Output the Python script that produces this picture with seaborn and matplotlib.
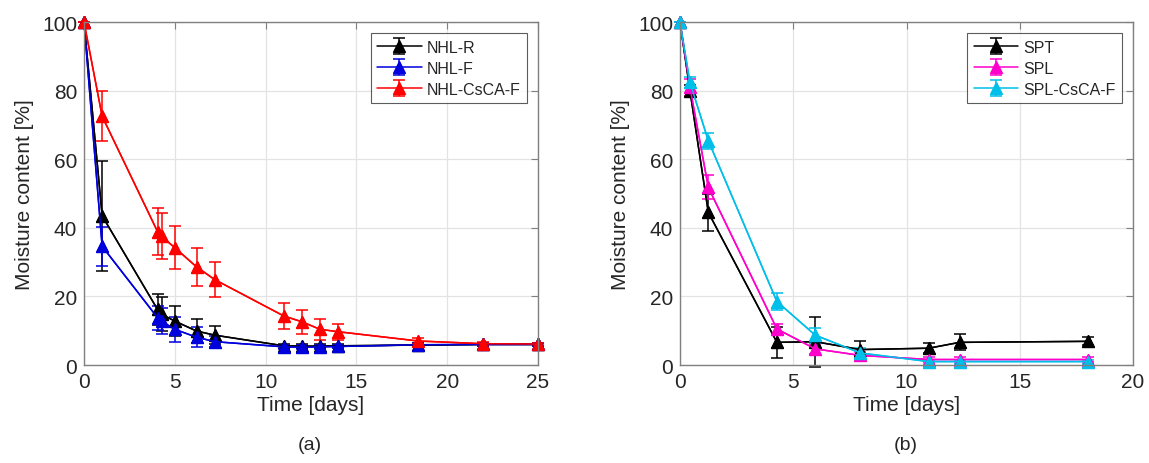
import matplotlib
matplotlib.use("Agg")
import matplotlib.pyplot as plt
import numpy as np
import pandas as pd
import seaborn as sns

# Panel (a) data
days_a = [0, 1, 4.05, 4.27, 5, 6.2, 7.2, 11, 12, 13, 14, 18.4, 22, 25]
nhl_r = [100, 43.5, 16.2, 14.8, 12.8, 9.9, 8.7, 5.6, 5.5, 5.5, 5.6, 5.8, 6.0, 6.0]
nhl_r_err = [0, 16, 4.4, 5, 4.4, 3.4, 2.7, 0.5, 0.5, 0.5, 0.5, 0.5, 0.5, 0.5]
nhl_f = [100, 34.6, 13.8, 12.8, 10.4, 8.1, 6.8, 5.3, 5.2, 5.3, 5.4, 5.9, 6.0, 6.0]
nhl_f_err = [0, 5.7, 3.5, 3.8, 3.7, 2.9, 1.6, 0.5, 0.5, 0.5, 0.5, 0.5, 0.5, 0.5]
nhl_cs = [100, 72.5, 38.9, 37.5, 34.2, 28.6, 24.9, 14.3, 12.6, 10.4, 9.7, 7.0, 6.2, 6.1]
nhl_cs_err = [0, 7.3, 6.8, 6.7, 6.2, 5.6, 5.2, 3.9, 3.5, 3.1, 2.3, 0.8, 0.5, 0.4]

# Panel (b) data
days_b = [0, 0.44, 1.25, 4.28, 5.97, 7.96, 10.99, 12.34, 18.02]
spt = [100, 80, 44.5, 6.6, 6.8, 4.5, 4.9, 6.6, 6.9]
spt_err = [0, 1.5, 5.5, 4.5, 7.3, 2.5, 1.5, 2.3, 1.2]
spl = [100, 81, 51.8, 10.5, 4.7, 2.8, 1.6, 1.6, 1.6]
spl_err = [0, 2.5, 3.5, 1.5, 1.5, 1.0, 0.8, 0.8, 0.8]
spl_cs = [100, 82.4, 65.4, 18.5, 8.7, 3.5, 1.0, 1.0, 1.0]
spl_cs_err = [0, 1.5, 2.3, 2.6, 2.2, 1.5, 0.6, 0.6, 0.6]

sns.set_style("whitegrid")
plt.rcParams['font.family'] = ['Liberation Sans', 'DejaVu Sans']

fig = plt.figure(figsize=(11.49, 4.64), dpi=100)
ax1 = fig.add_axes([0.0731, 0.2112, 0.3951, 0.7392])
ax2 = fig.add_axes([0.5918, 0.2112, 0.3943, 0.7392])


def draw(ax, x, series, xmax):
    for name, y, err, col in series:
        df = pd.DataFrame({"day": x, "val": y})
        sns.lineplot(data=df, x="day", y="val", ax=ax, color=col, lw=1.1,
                     marker="^", markersize=8, markeredgecolor=col, legend=False)
        ax.errorbar(x, y, yerr=err, fmt="-^", color=col, lw=1.1, ms=8,
                    elinewidth=1.1, capsize=4, capthick=1.1, label=name)
    ax.set_xlim(0, xmax)
    ax.set_ylim(0, 100)
    ax.set_xticks(np.arange(0, xmax + 1, 5))
    ax.set_yticks(np.arange(0, 101, 20))
    ax.grid(True, color="#e3e3e3", lw=0.9)
    for s in ax.spines.values():
        s.set_color("#808080")
        s.set_linewidth(1.0)
    ax.tick_params(direction="in", length=5, width=0.8, color="#808080",
                   top=True, right=True, labelsize=15, labelcolor="#262626", pad=5)
    ax.set_xlabel("Time [days]", fontsize=15, color="#262626", labelpad=3)
    ax.set_ylabel("Moisture content [%]", fontsize=15, color="#262626", labelpad=6)
    leg = ax.legend(loc="upper right", fontsize=11.5, frameon=True, fancybox=False,
                    handlelength=2.8, handletextpad=0.3, borderpad=0.4,
                    labelspacing=0.38, borderaxespad=0.7)
    leg.get_frame().set_edgecolor("#333333")
    leg.get_frame().set_linewidth(0.8)
    for line in ax.get_lines():
        line.set_clip_on(False)


draw(ax1, days_a, [("NHL-R", nhl_r, nhl_r_err, "black"),
                   ("NHL-F", nhl_f, nhl_f_err, "#0000dd"),
                   ("NHL-CsCA-F", nhl_cs, nhl_cs_err, "#ff0000")], 25)
draw(ax2, days_b, [("SPT", spt, spt_err, "black"),
                   ("SPL", spl, spl_err, "#ff00cc"),
                   ("SPL-CsCA-F", spl_cs, spl_cs_err, "#00bfe8")], 20)

fig.text(0.270, 0.03, "(a)", ha="center", fontsize=14, color="#262626")
fig.text(0.788, 0.03, "(b)", ha="center", fontsize=14, color="#262626")

fig.savefig("out.png", dpi=100)
